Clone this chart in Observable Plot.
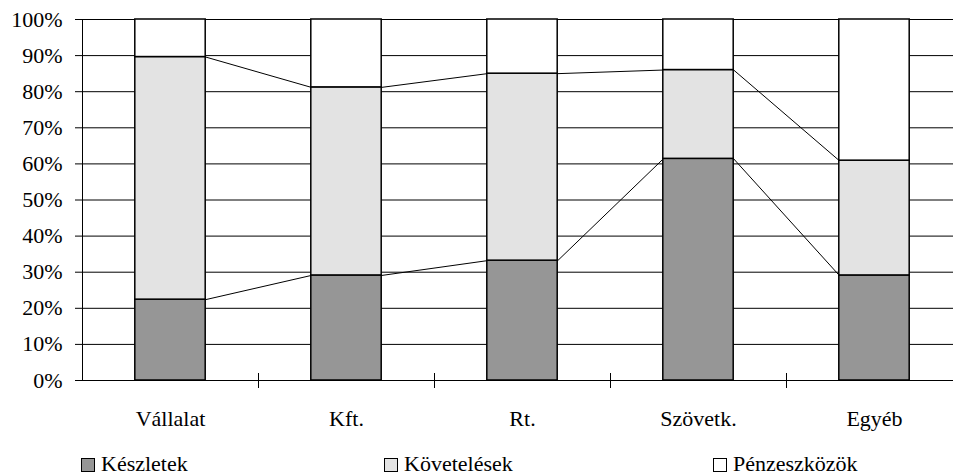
<!DOCTYPE html>
<html><head><meta charset="utf-8">
<script src="https://cdn.jsdelivr.net/npm/d3@7"></script>
<script src="https://cdn.jsdelivr.net/npm/@observablehq/plot@0.6"></script>
<style>
body{margin:0;background:#fff;font-family:"Liberation Serif","Times New Roman",serif;}
#legend{position:relative;width:953px;height:36px;}
.sw{position:absolute;top:18px;width:12px;height:12px;border:1px solid #000;}
.lt{position:absolute;top:13px;font-size:22px;line-height:22px;color:#000;white-space:nowrap;}
</style></head><body>
<div id="chart"></div>
<div id="legend"></div>
<script>
// ---- data ----
const categories = ["Vállalat", "Kft.", "Rt.", "Szövetk.", "Egyéb"];
const seriesNames = ["Készletek", "Követelések", "Pénzeszközök"];
const keszletek = [22.4, 29.1, 33.2, 61.4, 29.1];
const kovetelesek = [67.2, 52.1, 51.8, 24.6, 31.8];
const penzeszkozok = [10.4, 18.8, 15.0, 14.0, 39.1];
const yTicks = [0, 10, 20, 30, 40, 50, 60, 70, 80, 90, 100];
const seriesColors = ["#969696", "#e3e3e3", "#ffffff"];

// ---- derived tables ----
const halfBar = 0.2;
const seriesValues = [keszletek, kovetelesek, penzeszkozok];
const rects = [];
const levels = []; // cumulative tops per category for first two series
categories.forEach((c, i) => {
  let cum = 0;
  const lv = [];
  seriesNames.forEach((s, k) => {
    const v = seriesValues[k][i];
    rects.push({cat: i, series: s, y1: cum, y2: cum + v});
    cum += v;
    lv.push(cum);
  });
  levels.push(lv);
});
const links = [];
for (let i = 0; i < categories.length - 1; i++) {
  for (let k = 0; k < 2; k++) {
    links.push({x1: i + halfBar, x2: i + 1 - halfBar, y1: levels[i][k], y2: levels[i + 1][k]});
  }
}
const centers = categories.map((c, i) => i);
const boundaries = categories.slice(1).map((c, i) => i + 0.5);

const chart = Plot.plot({
  width: 953, height: 440,
  marginLeft: 82, marginRight: 0, marginTop: 19, marginBottom: 60,
  style: {fontFamily: '"Liberation Serif","Times New Roman",serif', fontSize: "22px", background: "white", color: "black"},
  x: {domain: [-0.5, categories.length - 0.5], range: [82, 962]},
  y: {domain: [0, 100]},
  color: {domain: seriesNames, range: seriesColors},
  marks: [
    Plot.ruleY(yTicks, {stroke: "black", strokeWidth: 1}),
    Plot.ruleX([-0.5], {y1: 0, y2: 100, stroke: "black", strokeWidth: 1}),
    Plot.link(links, {x1: "x1", x2: "x2", y1: "y1", y2: "y2", stroke: "black", strokeWidth: 1}),
    Plot.rect(rects, {x1: d => d.cat - halfBar, x2: d => d.cat + halfBar, y1: "y1", y2: "y2", fill: "series", stroke: "black", strokeWidth: 1.5}),
    Plot.axisY({ticks: yTicks, tickSize: 7, tickPadding: 13, tickFormat: d => d + "%", fontSize: 22, label: null}),
    Plot.axisX({ticks: centers, tickSize: 0, tickPadding: 30, tickFormat: i => categories[i], fontSize: 22, label: null}),
    Plot.axisX({ticks: boundaries, tickSize: 15, dy: -7, tickFormat: () => "", label: null})
  ]
});
document.getElementById("chart").appendChild(chart);

// ---- legend ----
const legendSquareLeft = [81, 384, 713];
const legend = document.getElementById("legend");
seriesNames.forEach((s, k) => {
  const sw = document.createElement("div");
  sw.className = "sw";
  sw.style.left = legendSquareLeft[k] + "px";
  sw.style.background = seriesColors[k];
  legend.appendChild(sw);
  const t = document.createElement("div");
  t.className = "lt";
  t.style.left = (legendSquareLeft[k] + 20) + "px";
  t.textContent = s;
  legend.appendChild(t);
});
</script></body></html>
